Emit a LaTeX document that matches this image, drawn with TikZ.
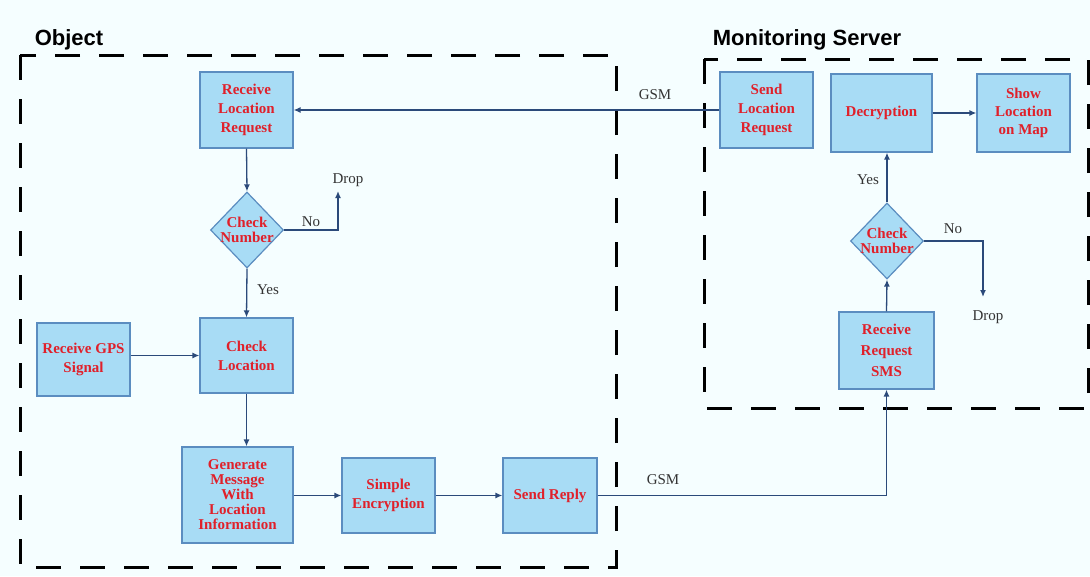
\documentclass[tikz,border=0pt]{standalone}
\usepackage{fontspec}
\setmainfont{Liberation Serif}
\setsansfont{Liberation Sans}
\usetikzlibrary{shapes.geometric,arrows.meta}
\definecolor{bgc}{HTML}{F5FEFF}
\definecolor{boxfill}{HTML}{A8DCF5}
\definecolor{boxline}{HTML}{5B8DC0}
\definecolor{arrowc}{HTML}{2B4A7A}
\definecolor{txtred}{HTML}{E0202A}
\definecolor{lblc}{HTML}{333333}
\tikzset{
  procbox/.style={draw=boxline, fill=boxfill, line width=1.2pt, inner sep=0pt,
    align=center, text=txtred, font=\fontsize{15}{19}\selectfont\bfseries},
  decbox/.style={shape=diamond, draw=boxline, fill=boxfill, line width=1.2pt,
    inner sep=0pt, minimum width=73pt, minimum height=76pt},
  dectext/.style={align=center, text=txtred, font=\fontsize{15}{15}\selectfont\bfseries},
  flow/.style={draw=arrowc, line width=1.3pt, -{Latex[length=7pt,width=6pt]}},
  lbl/.style={text=lblc, font=\fontsize{15}{18}\selectfont},
  region/.style={draw=black, line width=3pt, dash pattern=on 25pt off 19pt},
  title/.style={font=\fontsize{22}{26}\selectfont\sffamily\bfseries, text=black}
}
\begin{document}
\begin{tikzpicture}[x=1pt,y=-1pt]
\useasboundingbox[fill=bgc] (0,0) rectangle (1090,576);

% regions
\draw[region] (20,55) rectangle (616,567);
\draw[region] (704,59) rectangle (1088,408);
\node[title] (tobj) at (69,40) {Object};
\node[title] (tsrv) at (807,40) {Monitoring Server};

% object side
\node[procbox, minimum width=93pt, minimum height=76pt] (rlr) at (246.5,110) {Receive\\Location\\Request};
\node[decbox] (cn1) at (247,230) {};
\node[dectext] (cn1t) at (cn1.center) {Check\\Number};
\node[lbl] (drop1) at (348,180) {Drop};
\coordinate (d1) at (338,191);
\node[procbox, minimum width=93pt, minimum height=75pt] (cl) at (246.5,355.5) {Check\\Location};
\node[procbox, minimum width=93pt, minimum height=73pt] (gps) at (83.5,359.5) {Receive GPS\\Signal};
\node[procbox, minimum width=111pt, minimum height=96pt, font=\fontsize{15}{15}\selectfont\bfseries] (gen) at (237.5,495) {Generate\\Message\\With\\Location\\Information};
\node[procbox, minimum width=93pt, minimum height=75pt] (enc) at (388.5,495.5) {Simple\\Encryption};
\node[procbox, minimum width=94pt, minimum height=75pt] (rep) at (550,495.5) {Send Reply};

% server side
\node[procbox, minimum width=93pt, minimum height=76pt] (slr) at (766.5,110) {Send\\Location\\Request};
\node[procbox, minimum width=101pt, minimum height=78pt] (dec) at (881.5,113) {Decryption};
\node[procbox, minimum width=93pt, minimum height=78pt, font=\fontsize{15}{18}\selectfont\bfseries] (show) at (1023.5,113) {Show\\Location\\on Map};
\node[decbox] (cn2) at (887,241) {};
\node[dectext] (cn2t) at (cn2.center) {Check\\Number};
\node[procbox, minimum width=95pt, minimum height=77pt, font=\fontsize{15}{21}\selectfont\bfseries] (sms) at (886.5,350.5) {Receive\\Request\\SMS};
\node[lbl] (drop2) at (988,317) {Drop};
\coordinate (d2) at (983,297);

% connectors
\draw[flow] (slr.west) -- (rlr.east);
\node[lbl] (gsm1) at (655,95) {GSM};
\draw[flow] (rlr.south) -- (cn1.north);
\draw[flow] (cn1.east) -| (d1);
\node[lbl] (no1) at (311,222) {No};
\draw[flow] (cn1.south) -- (cl.north);
\node[lbl] (yes1) at (268,290) {Yes};
\draw[flow] (gps.east|-cl.west) -- (cl.west);
\draw[flow] (cl.south) -- (cl.south|-gen.north);
\draw[flow] (gen.east|-enc.west) -- (enc.west);
\draw[flow] (enc.east) -- (rep.west);
\draw[flow] (rep.east) -| (sms.south);
\node[lbl] (gsm2) at (663,480) {GSM};
\draw[flow] (sms.north) -- (cn2.south);
\draw[flow] (cn2.north) -- (cn2.north|-dec.south);
\node[lbl] (yes2) at (868,180) {Yes};
\draw[flow] (cn2.east) -| (d2);
\node[lbl] (no2) at (953,229) {No};
\draw[flow] (dec.east) -- (show.west);
\end{tikzpicture}
\end{document}
